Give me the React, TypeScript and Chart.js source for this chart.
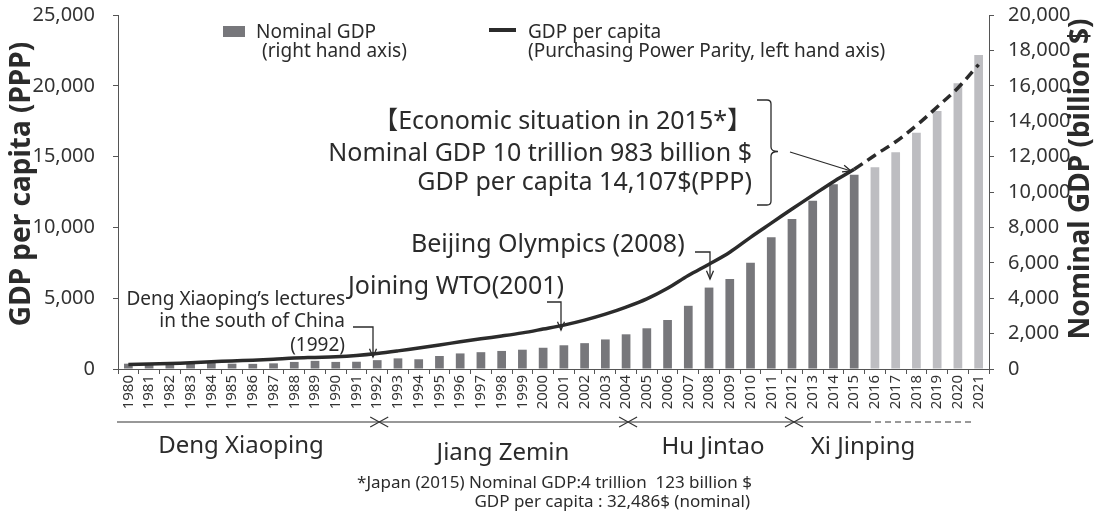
import React, { useEffect, useRef } from 'react';
import { Chart, registerables } from 'chart.js';

Chart.register(...registerables);

const years = [
  '1980', '1981', '1982', '1983', '1984', '1985', '1986', '1987', '1988', '1989',
  '1990', '1991', '1992', '1993', '1994', '1995', '1996', '1997', '1998', '1999',
  '2000', '2001', '2002', '2003', '2004', '2005', '2006', '2007', '2008', '2009',
  '2010', '2011', '2012', '2013', '2014', '2015', '2016', '2017', '2018', '2019',
  '2020', '2021',
];

// Nominal GDP, billion $ (right axis)
const nominalGdp = [
  300, 290, 285, 310, 350, 300, 290, 320, 400, 460,
  400, 410, 500, 600, 550, 735, 880, 950, 1020, 1090,
  1200, 1340, 1460, 1670, 1960, 2300, 2770, 3570, 4600, 5090,
  6000, 7450, 8470, 9500, 10440, 10980, 11400, 12250, 13350, 14570,
  16140, 17740,
];

// GDP per capita, PPP $ (left axis)
const gdpPerCapitaPPP = [
  310, 350, 390, 440, 510, 570, 620, 690, 770, 820,
  870, 960, 1100, 1280, 1480, 1700, 1920, 2130, 2330, 2550,
  2820, 3100, 3450, 3870, 4370, 4950, 5700, 6600, 7400, 8250,
  9300, 10300, 11300, 12270, 13230, 14107, 15100, 16050, 17200, 18500,
  19850, 21500,
];

const lastActualYear = '2015';
const leftTicks = { min: 0, max: 25000, step: 5000 };
const rightTicks = { min: 0, max: 20000, step: 2000 };

const eraNames = ['Deng Xiaoping', 'Jiang Zemin', 'Hu Jintao', 'Xi Jinping'];
const eraChangeYears = ['1992', '2004', '2012'];

const FONT = "'Noto Sans', 'Noto Sans CJK JP', sans-serif";
const TEXT = '#2b2b2b';

function arrowHead(ctx: CanvasRenderingContext2D, x: number, y: number, angle: number, len = 9) {
  ctx.beginPath();
  ctx.moveTo(x - len * Math.cos(angle - 0.4), y - len * Math.sin(angle - 0.4));
  ctx.lineTo(x, y);
  ctx.lineTo(x - len * Math.cos(angle + 0.4), y - len * Math.sin(angle + 0.4));
  ctx.stroke();
}

const overlay = {
  id: 'overlay',
  afterDraw(chart: any) {
    const ctx: CanvasRenderingContext2D = chart.ctx;
    const xs = chart.scales.x;
    ctx.save();
    ctx.fillStyle = TEXT;
    ctx.strokeStyle = TEXT;

    // Axis titles
    ctx.textAlign = 'center';
    ctx.textBaseline = 'middle';
    ctx.font = `bold 28px ${FONT}`;
    ctx.save();
    ctx.translate(22, 184);
    ctx.rotate(-Math.PI / 2);
    ctx.fillText('GDP per capita (PPP)', 0, 0);
    ctx.restore();
    ctx.font = `bold 28px ${FONT}`;
    ctx.save();
    ctx.translate(1081, 179);
    ctx.rotate(-Math.PI / 2);
    ctx.fillText('Nominal GDP (billion $)', 0, 0);
    ctx.restore();

    // Legend
    ctx.fillStyle = '#77777b';
    ctx.fillRect(223, 26, 22, 11);
    ctx.strokeStyle = TEXT;
    ctx.lineWidth = 4;
    ctx.beginPath();
    ctx.moveTo(489, 30);
    ctx.lineTo(516, 30);
    ctx.stroke();
    ctx.fillStyle = TEXT;
    ctx.font = `19px ${FONT}`;
    ctx.textAlign = 'left';
    ctx.textBaseline = 'alphabetic';
    ctx.fillText('Nominal GDP', 256, 38);
    ctx.fillText('(right hand axis)', 262, 57);
    ctx.fillText('GDP per capita', 528, 38);
    ctx.fillText('(Purchasing Power Parity, left hand axis)', 528, 57);

    // 2015 box text
    ctx.font = `25px ${FONT}`;
    ctx.textAlign = 'right';
    ctx.fillText('【Economic situation in 2015*】', 752, 129);
    ctx.fillText('Nominal GDP 10 trillion 983 billion $', 752, 161);
    ctx.fillText('GDP per capita 14,107$(PPP)', 752, 190);

    // brace
    ctx.lineWidth = 1.3;
    ctx.beginPath();
    ctx.moveTo(757, 100);
    ctx.lineTo(767, 100);
    ctx.quadraticCurveTo(771, 100, 771, 104);
    ctx.lineTo(771, 147);
    ctx.quadraticCurveTo(771, 151.5, 778, 151.5);
    ctx.quadraticCurveTo(771, 151.5, 771, 156);
    ctx.lineTo(771, 201);
    ctx.quadraticCurveTo(771, 205, 767, 205);
    ctx.lineTo(757, 205);
    ctx.stroke();
    // arrow to 2015
    ctx.beginPath();
    ctx.moveTo(790, 152);
    ctx.lineTo(851, 171);
    ctx.stroke();
    arrowHead(ctx, 851, 171, Math.atan2(19, 61));

    // Beijing Olympics
    ctx.textAlign = 'left';
    ctx.fillText('Beijing Olympics (2008)', 411, 252);
    ctx.beginPath();
    ctx.moveTo(695, 252);
    ctx.lineTo(710, 252);
    ctx.lineTo(710, 279);
    ctx.stroke();
    arrowHead(ctx, 710, 279, Math.PI / 2);

    // WTO
    ctx.fillText('Joining WTO(2001)', 348, 294);
    ctx.beginPath();
    ctx.moveTo(547, 302);
    ctx.lineTo(561, 302);
    ctx.lineTo(561, 330);
    ctx.stroke();
    arrowHead(ctx, 561, 330, Math.PI / 2);

    // Deng lectures
    ctx.font = `19px ${FONT}`;
    ctx.textAlign = 'right';
    ctx.fillText('Deng Xiaoping\u2019s lectures', 345, 305);
    ctx.fillText('in the south of China', 345, 327);
    ctx.fillText('(1992)', 345, 351);
    ctx.beginPath();
    ctx.moveTo(353, 327);
    ctx.lineTo(373, 327);
    ctx.lineTo(373, 357);
    ctx.stroke();
    arrowHead(ctx, 373, 357, Math.PI / 2);

    // Era line
    const eraY = 422;
    const eraEndSolid = 865;
    ctx.lineWidth = 1.2;
    ctx.strokeStyle = '#333';
    ctx.beginPath();
    ctx.moveTo(117, eraY);
    ctx.lineTo(eraEndSolid, eraY);
    ctx.stroke();
    ctx.setLineDash([6, 4]);
    ctx.beginPath();
    ctx.moveTo(eraEndSolid, eraY);
    ctx.lineTo(972, eraY);
    ctx.stroke();
    ctx.setLineDash([]);
    eraChangeYears.forEach((yr) => {
      const cx = xs.getPixelForValue(years.indexOf(yr)) + 2;
      ctx.beginPath();
      ctx.moveTo(cx - 9, eraY - 5);
      ctx.lineTo(cx + 9, eraY + 5);
      ctx.moveTo(cx - 9, eraY + 5);
      ctx.lineTo(cx + 9, eraY - 5);
      ctx.stroke();
    });
    ctx.font = `24px ${FONT}`;
    ctx.textAlign = 'center';
    ctx.fillText(eraNames[0], 241, 453);
    ctx.fillText(eraNames[1], 503, 460);
    ctx.fillText(eraNames[2], 713, 454);
    ctx.fillText(eraNames[3], 863, 454);

    // Footnote
    ctx.font = `17px ${FONT}`;
    ctx.textAlign = 'right';
    ctx.fillText('*Japan (2015) Nominal GDP:4 trillion  123 billion $', 752, 488);
    ctx.fillText('GDP per capita : 32,486$ (nominal)', 750, 507);

    ctx.restore();
  },
};

export default function App() {
  const ref = useRef<HTMLCanvasElement | null>(null);

  useEffect(() => {
    if (!ref.current) return;
    const lastIdx = years.indexOf(lastActualYear);
    const chart = new Chart(ref.current, {
      type: 'bar',
      data: {
        labels: years,
        datasets: [
          {
            type: 'line',
            label: 'GDP per capita',
            data: gdpPerCapitaPPP,
            yAxisID: 'yL',
            borderColor: '#2b2b2b',
            borderWidth: 3.5,
            pointRadius: 0,
            tension: 0.35,
            order: 0,
            segment: {
              borderDash: (c: any) => (c.p0DataIndex >= lastIdx ? [10, 6] : undefined),
            },
          } as any,
          {
            type: 'bar',
            label: 'Nominal GDP',
            data: nominalGdp,
            yAxisID: 'yR',
            backgroundColor: years.map((_, i) => (i <= lastIdx ? '#77777b' : '#bdbdc1')),
            barPercentage: 0.42,
            categoryPercentage: 1,
            order: 1,
          },
        ],
      },
      options: {
        responsive: false,
        animation: false,
        layout: { padding: { top: 15 } },
        plugins: { legend: { display: false }, tooltip: { enabled: false } },
        scales: {
          x: {
            grid: { drawOnChartArea: false, color: '#555', tickLength: 5, offset: true },
            border: { color: '#555' },
            ticks: {
              autoSkip: false,
              minRotation: 90,
              maxRotation: 90,
              font: { family: FONT, size: 15 },
              color: '#333',
              padding: 1,
            },
            afterFit: (s: any) => {
              s.height = 145;
              s.paddingLeft = 0;
              s.paddingRight = 0;
            },
          },
          yL: {
            position: 'left',
            min: leftTicks.min,
            max: leftTicks.max,
            ticks: {
              stepSize: leftTicks.step,
              callback: (v: any) => Number(v).toLocaleString('en-US'),
              font: { family: FONT, size: 20 },
              color: '#333',
              padding: 18,
            },
            grid: { drawOnChartArea: false, color: '#555', tickLength: 5 },
            border: { color: '#555' },
            afterFit: (s: any) => {
              s.width = 118;
              s.paddingTop = 0;
              s.paddingBottom = 0;
            },
          },
          yR: {
            position: 'right',
            min: rightTicks.min,
            max: rightTicks.max,
            ticks: {
              stepSize: rightTicks.step,
              callback: (v: any) => Number(v).toLocaleString('en-US'),
              font: { family: FONT, size: 20 },
              color: '#333',
              padding: 14,
            },
            grid: { drawOnChartArea: false, color: '#555', tickLength: 5 },
            border: { color: '#555' },
            afterFit: (s: any) => {
              s.width = 116;
              s.paddingTop = 0;
              s.paddingBottom = 0;
            },
          },
        },
      },
      plugins: [overlay],
    });
    return () => chart.destroy();
  }, []);

  return (
    <div style={{ position: 'absolute', left: 0, top: 0, width: 1105, height: 514, background: '#fff' }}>
      <canvas ref={ref} width={1105} height={514} style={{ width: 1105, height: 514 }} />
    </div>
  );
}
